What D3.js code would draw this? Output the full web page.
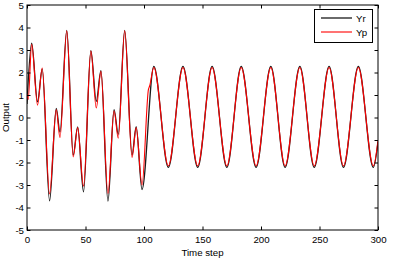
<!DOCTYPE html>
<html>
<head>
<meta charset="utf-8">
<script src="https://cdn.jsdelivr.net/npm/d3@7/dist/d3.min.js"></script>
<style>
  html, body { margin: 0; padding: 0; background: #fff; }
  svg { display: block; font-family: "Liberation Sans", Arial, Helvetica, sans-serif; }
</style>
</head>
<body>
<svg id="chart" width="393" height="260"></svg>
<script>
// ---- data ----
const xTicks = [0, 50, 100, 150, 200, 250, 300];
const yTicks = [-5, -4, -3, -2, -1, 0, 1, 2, 3, 4, 5];
const seriesNames = ["Yr", "Yp"];

const yrSteps = [0, 4, 9, 13, 19.3, 25, 28.2, 34, 39.5, 43.3, 48.3, 54.6, 59.2, 63.2, 69.2, 74.4, 78, 83.5, 89.8, 93.3, 98.3,
  108.4, 120.8, 133.3, 145.9, 158.2, 170.8, 183.1, 195.8, 208.4, 220.6, 233.2, 245.5, 258.2, 270.5, 283.2, 296, 300];
const yrValues = [0.6, 3.3, 0.7, 2.15, -3.7, 0.4, -0.65, 3.87, -1.67, -0.42, -3.3, 2.97, 0.72, 2.08, -3.72, 0.35, -0.75, 3.87, -1.67, -0.41, -3.2,
  2.27, -2.22, 2.27, -2.22, 2.27, -2.22, 2.27, -2.22, 2.27, -2.22, 2.27, -2.22, 2.27, -2.22, 2.27, -2.22, -1.1];

const ypSteps = [0, 1, 4, 9, 13, 19.3, 25, 28.2, 34, 39.5, 43.3, 48.3, 54.6, 59.2, 63.2, 69.2, 74.4, 78, 83.5, 89.8, 93.3, 98.3, 103.8, 104.8,
  108.4, 120.8, 133.3, 145.9, 158.2, 170.8, 183.1, 195.8, 208.4, 220.6, 233.2, 245.5, 258.2, 270.5, 283.2, 296, 300];
const ypValues = [1.05, 0.8, 3.25, 0.55, 2.2, -3.4, 0.35, -0.9, 3.85, -1.75, -0.45, -3.05, 2.95, 0.42, 2.05, -3.38, 0.3, -0.92, 3.85, -1.78, -0.45, -3.0, 1.25, 1.4,
  2.22, -2.15, 2.22, -2.15, 2.22, -2.15, 2.22, -2.15, 2.22, -2.15, 2.22, -2.15, 2.22, -2.15, 2.22, -2.15, -1.0];

// ---- layout ----
const svg = d3.select("#chart");
const L = 27, R = 378, T = 5, B = 230;
const x = d3.scaleLinear().domain([0, 300]).range([L, R]);
const y = d3.scaleLinear().domain([-5, 5]).range([B, T]);

svg.append("rect").attr("width", 393).attr("height", 260).attr("fill", "#fff");

svg.append("defs").append("clipPath").attr("id", "clip")
  .append("rect").attr("x", L).attr("y", T).attr("width", R - L).attr("height", B - T);

const line = d3.line().x(d => x(d[0])).y(d => y(d[1])).curve(d3.curveMonotoneX);
const yr = yrSteps.map((s, i) => [s, yrValues[i]]);
const yp = ypSteps.map((s, i) => [s, ypValues[i]]);

const g = svg.append("g").attr("clip-path", "url(#clip)");
g.append("path").datum(yr).attr("d", line).attr("fill", "none").attr("stroke", "#1a1a1a").attr("stroke-width", 1.3);
g.append("path").datum(yp).attr("d", line).attr("fill", "none").attr("stroke", "#ff0000").attr("stroke-width", 1.1);

// ---- axes (MATLAB style, ticks inward) ----
const tl = 3.5;
const fs = "9.7px";
const axB = svg.append("g").attr("transform", `translate(0,${B})`)
  .call(d3.axisBottom(x).tickValues(xTicks).tickSize(-tl).tickPadding(6).tickFormat(d3.format("d")));
const axT = svg.append("g").attr("transform", `translate(0,${T})`)
  .call(d3.axisTop(x).tickValues(xTicks).tickSize(-tl).tickFormat(""));
const axL = svg.append("g").attr("transform", `translate(${L},0)`)
  .call(d3.axisLeft(y).tickValues(yTicks).tickSize(-tl).tickPadding(3).tickFormat(d3.format("d")));
const axR = svg.append("g").attr("transform", `translate(${R},0)`)
  .call(d3.axisRight(y).tickValues(yTicks).tickSize(-tl).tickFormat(""));

[axB, axT, axL, axR].forEach(a => {
  a.select(".domain").remove();
  a.selectAll(".tick line").attr("stroke", "#000").attr("stroke-width", 1);
  a.selectAll("text").attr("font-size", fs).attr("fill", "#000").attr("font-family", "Liberation Sans, Arial, sans-serif");
});
axL.selectAll("text").text(d => d < 0 ? "-" + Math.abs(d) : d);

svg.append("rect").attr("x", L).attr("y", T).attr("width", R - L).attr("height", B - T)
  .attr("fill", "none").attr("stroke", "#000").attr("stroke-width", 1);

// axis titles
svg.append("text").attr("x", (L + R) / 2).attr("y", 255.5).attr("text-anchor", "middle")
  .attr("font-size", fs).text("Time step");
svg.append("text").attr("transform", `translate(9,${(T + B) / 2}) rotate(-90)`).attr("text-anchor", "middle")
  .attr("font-size", fs).text("Output");

// ---- legend ----
const lg = svg.append("g");
lg.append("rect").attr("x", 314.5).attr("y", 9.5).attr("width", 58).attr("height", 33)
  .attr("fill", "#fff").attr("stroke", "#000").attr("stroke-width", 1);
const colors = ["#1a1a1a", "#ff0000"];
seriesNames.forEach((n, i) => {
  const yy = 18 + i * 14;
  lg.append("line").attr("x1", 321).attr("x2", 352).attr("y1", yy).attr("y2", yy)
    .attr("stroke", colors[i]).attr("stroke-width", i === 0 ? 1.3 : 1.1);
  lg.append("text").attr("x", 356).attr("y", yy + 3.5).attr("font-size", fs).text(n);
});
</script>
</body>
</html>
